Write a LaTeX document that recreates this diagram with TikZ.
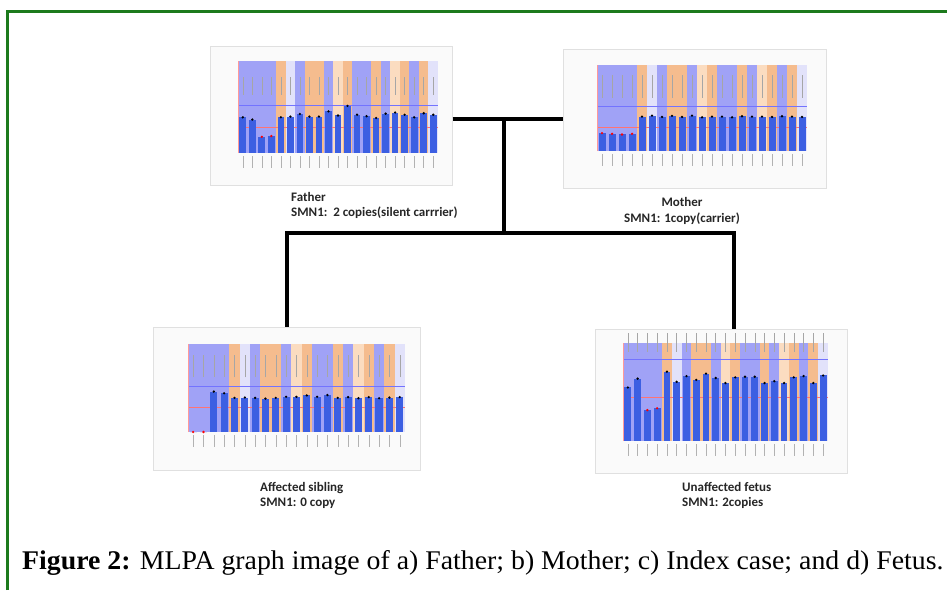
\documentclass[tikz,border=0pt]{standalone}
\usepackage{fontspec}
\setmainfont{Liberation Serif}
\newfontfamily\labelfont{Carlito}

\definecolor{framegreen}{RGB}{28,122,28}
\definecolor{bandB}{RGB}{160,162,246}
\definecolor{bandO}{RGB}{245,188,142}
\definecolor{bandP}{RGB}{251,220,192}
\definecolor{bandL}{RGB}{226,226,250}
\definecolor{barblue}{RGB}{60,95,226}

\tikzset{
  chartbox/.style={draw=black!12, fill=black!2, line width=1pt, inner sep=0pt},
  pedline/.style={line width=4pt, black, line join=miter},
  tag/.style={font=\labelfont\bfseries\fontsize{13}{15.5}\selectfont, text=black!85, align=left, inner sep=0pt},
}

% #1 origin of the plot, #2 column width, #3 unit height, #4 top value,
% #5 bar values, #6 and #7 range of the probe names
\newcommand{\mlpaplot}[7]{%
\begin{scope}[shift={#1}, x=#2, y=#3]
  \foreach \c [count=\i] in {bandB,bandB,bandB,bandB,bandO,bandL,bandB,bandO,bandO,bandB,bandP,bandO,bandB,bandB,bandO,bandB,bandP,bandO,bandB,bandO,bandL}
    \fill[\c] (\i-1,0) rectangle (\i,#4);
  \foreach \i in {1,...,21}
    \draw[black!35, line width=0.5pt] (\i-0.5,#6) -- (\i-0.5,#7);
  \draw[blue!55, line width=0.6pt] (0,1.3) -- (21,1.3);
  \draw[red!55, line width=0.5pt] (0,0.7) -- (21,0.7);
  \foreach \v [count=\i] in {#5} {
    \fill[barblue] (\i-0.85,0) rectangle (\i-0.15,\v);
    \ifdim\v pt<0.75pt \def\mk{red}\else\def\mk{black}\fi
    \fill[\mk] (\i-0.5,\v) circle (1.3pt);
    \draw[black!30, line width=0.5pt] (\i-0.5,0) ++(0,-3pt) -- ++(0,-12pt);
  }
  \draw[red!40] (0,0) -- (0,#4);
  %\draw[black!30] (0,0) -- (21,0);
\end{scope}}

\begin{document}
\begin{tikzpicture}[x=1pt, y=-1pt]
  \fill[white] (0,0) rectangle (947,590);
  \useasboundingbox (0,0) rectangle (947,590);
  \draw[framegreen, line width=3pt] (7,590) -- (7,11) -- (947,11);

  % the four MLPA charts
  \node[chartbox, minimum width=242pt, minimum height=139pt] (father) at (331,115.5) {};
  \node[chartbox, minimum width=263pt, minimum height=139pt] (mother) at (694.5,118.5) {};
  \node[chartbox, minimum width=267pt, minimum height=143pt] (sibling) at (286.5,398.5) {};
  \node[chartbox, minimum width=252pt, minimum height=144pt] (fetus) at (721,401) {};

  \mlpaplot{(238,153)}{9.524pt}{36.8pt}{2.5}{0.97,0.91,0.44,0.46,0.97,0.99,1.06,0.99,0.99,1.13,1.02,1.28,1.04,1.0,0.95,1.07,1.1,1.04,0.97,1.08,1.04}{1.58}{2.07}
  \mlpaplot{(597,151)}{10pt}{34.4pt}{2.5}{0.52,0.5,0.48,0.5,1.0,1.03,0.99,1.02,0.99,1.03,0.98,1.0,1.0,0.98,1.01,1.0,1.0,0.99,1.01,1.0,0.99}{1.55}{2.2}
  \mlpaplot{(188,432)}{10.33pt}{35.2pt}{2.5}{0,0,1.15,1.1,0.97,0.98,0.97,0.95,0.97,1.0,1.0,1.04,1.0,1.05,0.97,0.99,0.96,0.99,0.96,0.98,0.99}{1.55}{2.2}
  \mlpaplot{(623,441)}{9.76pt}{63pt}{1.556}{0.85,0.99,0.49,0.52,1.1,0.94,1.03,0.97,1.07,1.0,0.92,1.01,1.02,1.02,0.92,0.95,0.92,1.01,1.03,0.92,1.04}{1.42}{1.72}

  % pedigree lines
  \coordinate (mate) at (504,119);
  \coordinate (sibs) at (504,233);
  \coordinate (sibsR) at (734,233);
  \draw[pedline] (father.east |- mate) -- (mother.west |- mate);
  \draw[pedline] (mate) -- (sibs);
  \draw[pedline] (sibling.north) |- (sibsR) -- (fetus.north -| sibsR);

  \node[tag, anchor=north west] (fatherlbl) at (291,192) {Father\\SMN1:\ \ 2 copies(silent carrrier)};
  \node[tag, align=center] (motherlbl) at (682,211) {Mother\\SMN1: 1copy(carrier)};
  \node[tag, anchor=north west] (siblinglbl) at (260,482) {Affected sibling\\SMN1: 0 copy};
  \node[tag, anchor=north west] (fetuslbl) at (682,482) {Unaffected fetus\\SMN1: 2copies};

  \node[anchor=west, inner sep=0pt, font=\fontsize{27}{31}\selectfont] (caption) at (22,563)
    {\scalebox{1.03}[1]{\textbf{Figure 2:} MLPA graph image of a) Father; b) Mother; c) Index case; and d) Fetus.}};
\end{tikzpicture}
\end{document}
